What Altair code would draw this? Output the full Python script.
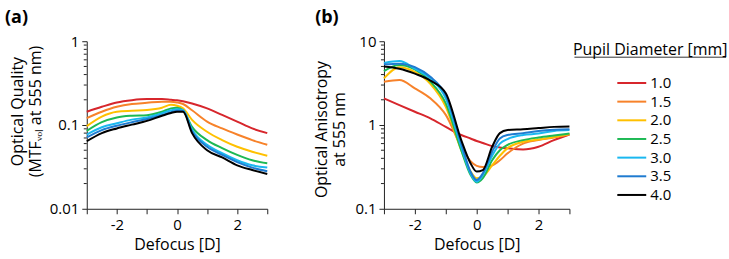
import altair as alt
import pandas as pd

DIAMETERS = ["1.0", "1.5", "2.0", "2.5", "3.0", "3.5", "4.0"]
COLORS = ["#d7262c", "#f7822a", "#ffc000", "#1db954", "#1ab8f0", "#1f7bd0", "#000000"]

# Panel (a): optical quality (MTFvol at 555 nm)
X_A = [-3, -2.5, -2, -1.5, -1, -0.5, -0.2, 0, 0.2, 0.5, 1, 1.5, 2, 2.5, 3]
A_10 = [0.144, 0.165, 0.186, 0.198, 0.204, 0.204, 0.200, 0.197, 0.192, 0.181, 0.158, 0.132, 0.110, 0.091, 0.080]
A_15 = [0.121, 0.144, 0.165, 0.178, 0.184, 0.190, 0.190, 0.186, 0.178, 0.150, 0.110, 0.091, 0.077, 0.066, 0.058]
A_20 = [0.097, 0.126, 0.144, 0.148, 0.151, 0.161, 0.174, 0.170, 0.158, 0.115, 0.083, 0.066, 0.055, 0.048, 0.043]
A_25 = [0.085, 0.108, 0.123, 0.129, 0.131, 0.144, 0.158, 0.161, 0.150, 0.095, 0.066, 0.053, 0.044, 0.038, 0.035]
A_30 = [0.077, 0.094, 0.105, 0.116, 0.123, 0.138, 0.150, 0.154, 0.151, 0.088, 0.058, 0.046, 0.038, 0.033, 0.031]
A_35 = [0.071, 0.087, 0.098, 0.108, 0.118, 0.131, 0.142, 0.148, 0.147, 0.084, 0.055, 0.044, 0.036, 0.031, 0.028]
A_40 = [0.064, 0.080, 0.091, 0.101, 0.112, 0.129, 0.139, 0.144, 0.144, 0.080, 0.050, 0.041, 0.033, 0.029, 0.026]

# Panel (b): optical anisotropy at 555 nm
X_B = [-3, -2.5, -2, -1.5, -1, -0.5, -0.2, 0, 0.2, 0.5, 0.75, 1, 1.5, 2, 2.5, 3]
B_10 = [2.08, 1.73, 1.44, 1.20, 0.95, 0.76, 0.69, 0.645, 0.61, 0.56, 0.54, 0.527, 0.51, 0.55, 0.66, 0.77]
B_15 = [3.28, 3.45, 2.74, 2.08, 1.32, 0.55, 0.37, 0.325, 0.315, 0.33, 0.38, 0.46, 0.60, 0.66, 0.71, 0.77]
B_20 = [3.6, 4.9, 4.3, 3.1, 1.65, 0.50, 0.28, 0.232, 0.243, 0.33, 0.43, 0.53, 0.63, 0.67, 0.72, 0.78]
B_25 = [4.4, 5.2, 4.6, 3.3, 1.81, 0.50, 0.254, 0.206, 0.232, 0.38, 0.50, 0.58, 0.66, 0.71, 0.75, 0.79]
B_30 = [5.5, 5.8, 4.7, 3.6, 2.08, 0.55, 0.265, 0.21, 0.254, 0.43, 0.60, 0.68, 0.76, 0.79, 0.85, 0.87]
B_35 = [5.3, 5.4, 4.9, 3.76, 2.27, 0.60, 0.278, 0.22, 0.265, 0.48, 0.69, 0.76, 0.80, 0.85, 0.88, 0.89]
B_40 = [5.0, 4.7, 4.1, 3.4, 2.4, 0.66, 0.35, 0.278, 0.29, 0.55, 0.80, 0.87, 0.89, 0.92, 0.95, 0.96]

X_TICKS = [-3, -2, -1, 0, 1, 2, 3]
Y_TICKS_A = [0.01, 0.1, 1]
Y_MINOR_A = [0.02, 0.03, 0.04, 0.05, 0.06, 0.07, 0.08, 0.09, 0.2, 0.3, 0.4, 0.5, 0.6, 0.7, 0.8, 0.9]
Y_TICKS_B = [0.1, 1, 10]
Y_MINOR_B = [0.2, 0.3, 0.4, 0.5, 0.6, 0.7, 0.8, 0.9, 2, 3, 4, 5, 6, 7, 8, 9]

TITLE_A = "(a)"
TITLE_B = "(b)"
Y_TITLE_A = ["Optical Quality", "(MTF\u1d65\u2092\u2097 at 555 nm)"]
Y_TITLE_B = ["Optical Anisotropy", "at 555 nm"]
X_TITLE = "Defocus [D]"
LEGEND_TITLE = "Pupil Diameter [mm]"

FONT = "Open Sans"
AXIS_COLOR = "#222222"


def long_df(xs, series):
    rows = []
    for d, vals in zip(DIAMETERS, series):
        for i, (x, v) in enumerate(zip(xs, vals)):
            rows.append({"defocus": x, "value": v, "diameter": d, "i": i})
    return pd.DataFrame(rows)


df_a = long_df(X_A, [A_10, A_15, A_20, A_25, A_30, A_35, A_40])
df_b = long_df(X_B, [B_10, B_15, B_20, B_25, B_30, B_35, B_40])

color = alt.Color("diameter:N", scale=alt.Scale(domain=DIAMETERS, range=COLORS), legend=None)

x_axis = alt.Axis(
    values=X_TICKS,
    labelExpr="datum.value % 2 == 0 ? '' + datum.value : ''",
    title=X_TITLE,
    grid=False,
    tickSize=5,
    labelFontSize=15,
    titleFontSize=16,
    titleFontWeight="normal",
    labelPadding=4,
    titlePadding=4,
    domainColor=AXIS_COLOR,
    tickColor=AXIS_COLOR,
    labelColor="#000000",
    titleColor="#000000",
)


def panel(df, ticks, minor, ytitle, title, title_x, title_y, width, dx):
    ydom = [ticks[0], ticks[-1]]
    yscale = alt.Scale(type="log", domain=ydom, nice=False)
    xscale = alt.Scale(domain=[-3, 3], nice=False)
    lines = alt.Chart(df).mark_line(strokeWidth=2, interpolate="monotone").encode(
        x=alt.X("defocus:Q", scale=xscale, axis=x_axis),
        y=alt.Y(
            "value:Q",
            scale=yscale,
            axis=alt.Axis(
                values=ticks,
                format="~g",
                title=ytitle,
                grid=False,
                tickSize=5,
                labelFontSize=15,
                titleFontSize=16,
                titleFontWeight="normal",
                titleAngle=270,
                titleAlign="center",
                titleBaseline="alphabetic",
                titleLineHeight=18,
                titleX=title_x,
                titleY=title_y,
                labelPadding=3,
                domainColor=AXIS_COLOR,
                tickColor=AXIS_COLOR,
                labelColor="#000000",
                titleColor="#000000",
            ),
        ),
        color=color,
        order="i:Q",
    )
    minor_df = pd.DataFrame({"value": minor})
    minor_ticks = alt.Chart(minor_df).mark_rule(color=AXIS_COLOR, strokeWidth=1).encode(
        y=alt.Y("value:Q", scale=yscale),
        x=alt.value(-3),
        x2=alt.value(0),
    )
    label_df = pd.DataFrame({"t": [title]})
    panel_label = alt.Chart(label_df).mark_text(
        align="left", baseline="alphabetic", fontSize=18, fontWeight="bold", color="#000000"
    ).encode(x=alt.value(dx), y=alt.value(-18), text="t:N")
    return alt.layer(lines, minor_ticks, panel_label).properties(width=width, height=168)


chart_a = panel(df_a, Y_TICKS_A, Y_MINOR_A, Y_TITLE_A, TITLE_A, -64, 70, 181, -82)
chart_b = panel(df_b, Y_TICKS_B, Y_MINOR_B, Y_TITLE_B, TITLE_B, -58, 88, 186, -69)

leg_df = pd.DataFrame({"diameter": DIAMETERS})
leg_y = alt.Y(
    "diameter:N",
    scale=alt.Scale(domain=DIAMETERS, range=[32.5, 163.5], padding=0),
    axis=None,
)
leg_lines = alt.Chart(leg_df).mark_rule(strokeWidth=2).encode(
    y=leg_y, x=alt.value(43), x2=alt.value(72), color=color
)
leg_text = alt.Chart(leg_df).mark_text(align="left", baseline="middle", fontSize=15, color="#000000").encode(
    y=leg_y, x=alt.value(76), text="diameter:N"
)
leg_title_df = pd.DataFrame({"t": [LEGEND_TITLE]})
leg_title = alt.Chart(leg_title_df).mark_text(
    align="center", baseline="alphabetic", fontSize=16, color="#000000"
).encode(x=alt.value(76), y=alt.value(14), text="t:N")
leg_under = alt.Chart(leg_title_df).mark_rule(color="#333333", strokeWidth=1).encode(
    x=alt.value(0), x2=alt.value(152), y=alt.value(16)
)
legend = alt.layer(leg_under, leg_title, leg_lines, leg_text).properties(width=154, height=168)

right = alt.hconcat(chart_b, legend, spacing=5, bounds="flush")
chart = alt.hconcat(chart_a, right, spacing=117, bounds="flush").properties(
    padding={"left": 4, "top": 8, "right": 0, "bottom": 0}
).configure(font=FONT).configure_view(stroke="transparent")

chart.save("out.html", embed_options={"renderer": "svg", "actions": False})
